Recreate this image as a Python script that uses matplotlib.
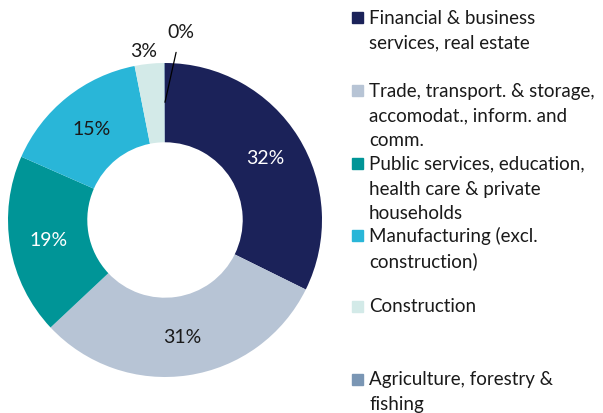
import numpy as np
import matplotlib.pyplot as plt
from matplotlib.patches import Rectangle

plt.rcParams['font.family'] = ['Lato', 'DejaVu Sans']

# ===== data =====
sectors = ["Financial & business\nservices, real estate",
           "Trade, transport. & storage,\naccomodat., inform. and\ncomm.",
           "Public services, education,\nhealth care & private\nhouseholds",
           "Manufacturing (excl.\nconstruction)",
           "Construction",
           "Agriculture, forestry &\nfishing"]
shares = [32.3, 30.7, 18.6, 15.3, 3.0, 0.1]
pct_labels = ["32%", "31%", "19%", "15%", "3%", "0%"]
colors = ["#1b2259", "#b7c4d5", "#009597", "#29b6d8", "#d3eae8", "#7a96b4"]
label_colors = ["white", "#1a1a1a", "white", "#1a1a1a", "#1a1a1a", "#1a1a1a"]

W, H = 603, 414
fig = plt.figure(figsize=(W / 100, H / 100), dpi=100)

# pie axes: centre (165, 221) px, outer radius 157 px
R = 157
cx, cy = 165, 221
half = 1.05 * R
ax = fig.add_axes([(cx - half) / W, (H - cy - half) / H, 2 * half / W, 2 * half / H])

wedges, _ = ax.pie(shares, colors=colors, startangle=90, counterclock=False,
                   radius=1.0, wedgeprops=dict(width=0.505, edgecolor='none'))
ax.set_xlim(-1.05, 1.05)
ax.set_ylim(-1.05, 1.05)
ax.set_aspect('equal')
ax.axis('off')

fs_pct = 14
for i, w in enumerate(wedges):
    mid = np.deg2rad((w.theta1 + w.theta2) / 2)
    if i < 4:
        r = 0.75
        ax.text(r * np.cos(mid), r * np.sin(mid), pct_labels[i], ha='center', va='center',
                fontsize=fs_pct, color=label_colors[i])
    elif i == 4:
        ax.text(-0.135, 1.08, pct_labels[i], ha='center', va='center', fontsize=fs_pct,
                color=label_colors[i])
    else:
        ax.annotate(pct_labels[i], xy=(0.0, 0.75),
                    xytext=(0.10, 1.20), ha='center', va='center', fontsize=fs_pct,
                    color=label_colors[i], annotation_clip=False,
                    arrowprops=dict(arrowstyle='-', color='black', lw=0.9,
                                    shrinkA=7, shrinkB=0))

# ===== legend (manual, Excel-like spacing) =====
first_line_y = [18, 91, 164, 236, 307, 380]  # px from top
line_step = 25
for label, col, y0 in zip(sectors, colors, first_line_y):
    fig.patches.append(Rectangle((352 / W, 1 - (y0 + 5.5) / H), 11 / W, 11 / H,
                                 transform=fig.transFigure, color=col))
    for k, ln in enumerate(label.split("\n")):
        fig.text(369 / W, 1 - (y0 + k * line_step) / H, ln, ha='left', va='center',
                 fontsize=13.5, color='#1a1a1a')

fig.savefig("out.png", dpi=100)
